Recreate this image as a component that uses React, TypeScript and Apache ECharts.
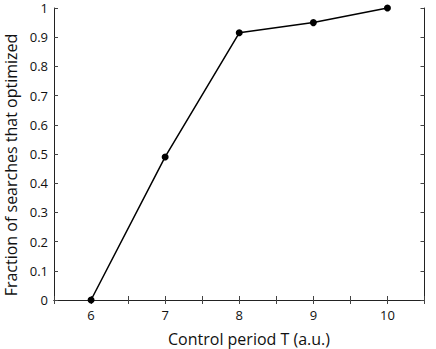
import React, { useEffect, useRef } from "react";
import * as echarts from "echarts";

const xValues = [6, 7, 8, 9, 10];
const yValues = [0, 0.49, 0.915, 0.95, 1.0];
const xTitle = "Control period T (a.u.)";
const yTitle = "Fraction of searches that optimized";

export default function App() {
  const ref = useRef<HTMLDivElement>(null);
  useEffect(() => {
    const chart = echarts.init(ref.current!, undefined, { renderer: "svg" });
    const font = "'Open Sans', 'Noto Sans', sans-serif";
    const axisLine = { show: true, lineStyle: { color: "#222", width: 1 } };
    const tick = { show: true, inside: true, length: 4, lineStyle: { color: "#444", width: 1 } };
    const xBase = {
      type: "value" as const,
      min: 5.5,
      max: 10.5,
      interval: 0.5,
      axisLine,
      axisTick: tick,
      splitLine: { show: false },
    };
    const yBase = {
      type: "value" as const,
      min: 0,
      max: 1,
      interval: 0.1,
      axisLine,
      axisTick: tick,
      splitLine: { show: false },
    };
    chart.setOption({
      animation: false,
      backgroundColor: "#fff",
      grid: { left: 54, right: 11.5, top: 8, bottom: 49, containLabel: false },
      graphic: [
        {
          type: "text",
          x: 249,
          y: 339,
          style: {
            text: xTitle,
            fontFamily: font,
            fontSize: 16,
            fill: "#111",
            align: "center",
            verticalAlign: "middle",
          },
        },
        {
          type: "text",
          x: 11,
          y: 165,
          rotation: Math.PI / 2,
          style: {
            text: yTitle,
            fontFamily: font,
            fontSize: 16,
            fill: "#111",
            align: "center",
            verticalAlign: "middle",
          },
        },
      ],
      xAxis: [
        {
          ...xBase,
          position: "bottom",
          axisLabel: {
            show: true,
            margin: 8,
            fontFamily: font,
            fontSize: 13,
            color: "#111",
            formatter: (v: number) => (Number.isInteger(v) ? String(v) : ""),
          },
        },
        { ...xBase, position: "top", axisLabel: { show: false } },
      ],
      yAxis: [
        {
          ...yBase,
          position: "left",
          axisLabel: {
            show: true,
            margin: 6,
            fontFamily: font,
            fontSize: 13,
            color: "#111",
            formatter: (v: number) => (v === 0 ? "0" : v === 1 ? "1" : v.toFixed(1)),
          },
        },
        { ...yBase, position: "right", axisLabel: { show: false } },
      ],
      series: [
        {
          type: "line",
          data: xValues.map((x, i) => [x, yValues[i]]),
          xAxisIndex: 0,
          yAxisIndex: 0,
          symbol: "circle",
          symbolSize: 7,
          itemStyle: { color: "#000" },
          lineStyle: { color: "#000", width: 1.5 },
          clip: false,
        },
      ],
    });
    return () => chart.dispose();
  }, []);
  return <div ref={ref} style={{ width: 436, height: 349, position: "absolute", left: 0, top: 0 }} />;
}
